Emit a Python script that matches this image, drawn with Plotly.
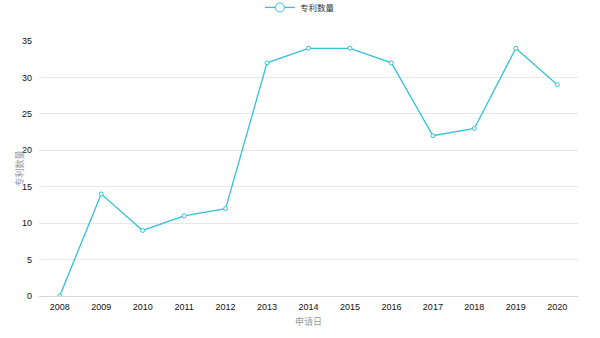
import plotly.graph_objects as go

years = ["2008", "2009", "2010", "2011", "2012", "2013", "2014",
         "2015", "2016", "2017", "2018", "2019", "2020"]
patents = [0, 14, 9, 11, 12, 32, 34, 34, 32, 22, 23, 34, 29]

line_color = "#33c2d6"
font_family = "'Liberation Sans', Arial, 'Noto Sans CJK SC', sans-serif"

fig = go.Figure()
# data line (small hollow markers)
fig.add_trace(go.Scatter(
    x=years, y=patents, name="专利数量",
    mode="lines+markers", showlegend=False,
    line=dict(color=line_color, width=1.3),
    marker=dict(symbol="circle", size=4, color="white",
                line=dict(color=line_color, width=1)),
))
# legend entry with a larger hollow circle
fig.add_trace(go.Scatter(
    x=[None], y=[None], name="专利数量",
    mode="lines+markers",
    line=dict(color=line_color, width=1.3),
    marker=dict(symbol="circle", size=9, color="white",
                line=dict(color=line_color, width=1)),
))

fig.update_layout(
    width=600, height=338,
    margin=dict(l=39, r=22, t=41, b=42, autoexpand=False),
    paper_bgcolor="white", plot_bgcolor="white",
    font=dict(family=font_family, size=9, color="#333333"),
    showlegend=True,
    legend=dict(orientation="h", x=0.484, xanchor="center",
                y=0.978, yanchor="middle", yref="container",
                font=dict(size=8.5, color="#333333"),
                itemwidth=30),
    xaxis=dict(
        type="category",
        range=[-0.5, len(years) - 0.5],
        showgrid=False, zeroline=False,
        showline=False, ticks="", ticklabelstandoff=4,
        tickfont=dict(size=9, color="#111111"),
        title=dict(text="申请日", font=dict(size=9, color="#999999"),
                   standoff=7),
    ),
    yaxis=dict(
        range=[0, 35], dtick=5,
        showgrid=True, gridcolor="#e8e8e8", gridwidth=1,
        zeroline=True, zerolinecolor="#d6d6d6", zerolinewidth=1,
        showline=False, ticks="", ticklabelstandoff=6,
        tickfont=dict(size=9, color="#111111"),
    ),
    annotations=[dict(
        text="专利数量", textangle=-90,
        xref="paper", yref="paper", x=-0.037, y=0.5,
        xanchor="center", yanchor="middle", showarrow=False,
        font=dict(size=9, color="#999999"),
    )],
)

fig.write_html("out.html")
